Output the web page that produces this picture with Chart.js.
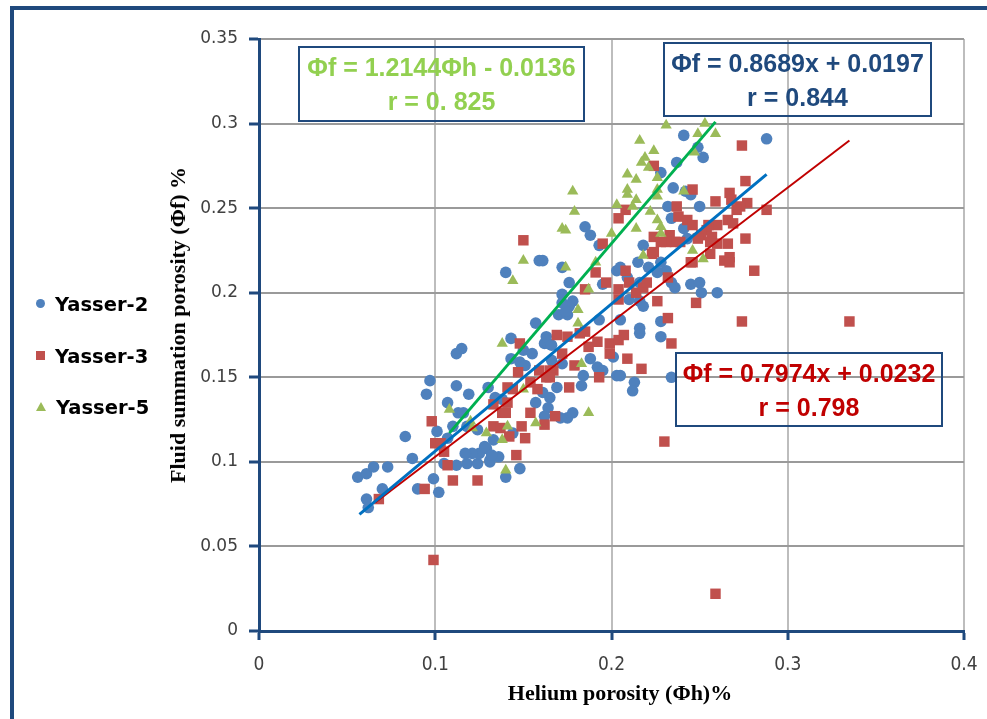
<!DOCTYPE html>
<html>
<head>
<meta charset="utf-8">
<script src="https://cdn.jsdelivr.net/npm/chart.js@4.4.1/dist/chart.umd.min.js"></script>
<style>
  body { margin: 0; background: #fff; }
  #wrap { position: relative; width: 987px; height: 719px; overflow: hidden; background: #fff; }
  #frame { position: absolute; left: 10px; top: 6px; width: 1000px; height: 760px; border: 4px solid #1F497D; box-sizing: border-box; }
  canvas { position: absolute; left: 0; top: 0; }
  .eq { position: absolute; border: 2px solid #1F497D; box-sizing: border-box; text-align: center;
        font: bold 25px "Liberation Sans", Arial, sans-serif; line-height: 34px; padding-top: 2px; white-space: nowrap; }
  .leg { position: absolute; left: 36px; height: 24px; line-height: 24px; font: bold 19.5px "DejaVu Sans", sans-serif; color: #000; white-space: nowrap; }
  .leg i { display: inline-block; margin-right: 10px; vertical-align: middle; position: relative; top: -2px; }
  .dot { width: 9px; height: 9px; border-radius: 50%; background: #4F81BD; }
  .sq { width: 9px; height: 9px; background: #C0504D; }
  .tri { width: 0; height: 0; border-left: 5px solid transparent; border-right: 5px solid transparent; border-bottom: 9px solid #9BBB59; }
  .ttl { position: absolute; font: bold 22px "Liberation Serif", "Times New Roman", serif; color: #000; white-space: nowrap; transform: translate(-50%, -50%); }
</style>
</head>
<body>
<div id="wrap">
  <div id="frame"></div>
  <canvas id="chart" width="987" height="719"></canvas>
  <div class="eq" style="left:298px;top:46px;width:287px;height:76px;color:#92D050;">Φf = 1.2144Φh - 0.0136<br>r = 0. 825</div>
  <div class="eq" style="left:663px;top:42px;width:269px;height:75px;color:#1F497D;">Φf = 0.8689x + 0.0197<br>r = 0.844</div>
  <div class="eq" style="left:675px;top:352px;width:268px;height:75px;color:#C00000;">Φf = 0.7974x + 0.0232<br>r = 0.798</div>
  <div class="leg" style="top:293px;"><i class="dot"></i>Yasser-2</div>
  <div class="leg" style="top:345px;"><i class="sq"></i>Yasser-3</div>
  <div class="leg" style="top:396px;"><i class="tri"></i>Yasser-5</div>
  <div class="ttl" style="left:620px;top:693px;">Helium porosity (Φh)%</div>
  <div class="ttl" style="left:178px;top:325px;transform:translate(-50%,-50%) rotate(-90deg);">Fluid summation porosity (Φf) %</div>
</div>
<script>
// helium porosity (x), fluid summation porosity (y)
const yasser2 = [
  [0.056,0.091],[0.061,0.093],[0.065,0.097],[0.073,0.097],[0.070,0.084],[0.061,0.078],[0.062,0.073],[0.087,0.102],
  [0.090,0.084],[0.099,0.090],[0.102,0.082],[0.105,0.099],[0.112,0.098],[0.118,0.099],[0.124,0.099],[0.131,0.100],
  [0.112,0.164],[0.115,0.167],[0.097,0.148],[0.095,0.140],[0.112,0.145],[0.119,0.140],[0.107,0.135],[0.113,0.129],
  [0.116,0.129],[0.130,0.144],[0.134,0.138],[0.138,0.137],[0.110,0.121],[0.118,0.121],[0.124,0.119],[0.101,0.118],
  [0.083,0.115],[0.107,0.114],[0.133,0.113],[0.144,0.117],[0.129,0.108],[0.125,0.105],[0.121,0.105],[0.117,0.105],
  [0.131,0.101],[0.136,0.103],[0.148,0.096],[0.140,0.091],[0.143,0.173],[0.150,0.166],[0.155,0.164],[0.162,0.170],
  [0.164,0.170],[0.148,0.159],[0.143,0.161],[0.157,0.182],[0.170,0.187],[0.175,0.187],[0.169,0.144],[0.165,0.138],
  [0.161,0.141],[0.157,0.135],[0.164,0.132],[0.162,0.127],[0.175,0.126],[0.171,0.126],[0.178,0.129],[0.128,0.109],
  [0.132,0.104],[0.159,0.219],[0.161,0.219],[0.140,0.212],[0.172,0.215],[0.176,0.206],[0.172,0.199],[0.178,0.195],
  [0.176,0.192],[0.174,0.189],[0.163,0.174],[0.166,0.169],[0.151,0.157],[0.166,0.160],[0.172,0.158],[0.188,0.161],
  [0.192,0.156],[0.184,0.151],[0.183,0.145],[0.203,0.213],[0.209,0.209],[0.215,0.218],[0.231,0.213],[0.226,0.212],
  [0.234,0.206],[0.216,0.195],[0.218,0.192],[0.210,0.196],[0.205,0.184],[0.228,0.183],[0.216,0.176],[0.228,0.174],
  [0.201,0.162],[0.203,0.151],[0.205,0.151],[0.213,0.147],[0.212,0.142],[0.195,0.154],[0.234,0.150],[0.245,0.205],
  [0.250,0.206],[0.251,0.200],[0.260,0.200],[0.241,0.293],[0.288,0.291],[0.249,0.286],[0.252,0.280],[0.237,0.277],
  [0.228,0.271],[0.235,0.262],[0.242,0.260],[0.245,0.258],[0.232,0.251],[0.250,0.251],[0.234,0.244],[0.185,0.239],
  [0.188,0.234],[0.193,0.228],[0.218,0.228],[0.241,0.238],[0.243,0.232],[0.228,0.218],[0.205,0.215],[0.221,0.215],
  [0.216,0.206],[0.236,0.203],[0.195,0.205],[0.172,0.194],[0.216,0.179],[0.193,0.184]
];
const yasser3 = [
  [0.068,0.078],[0.094,0.084],[0.107,0.098],[0.110,0.089],[0.124,0.089],[0.099,0.042],[0.098,0.124],[0.100,0.111],
  [0.103,0.111],[0.105,0.106],[0.133,0.134],[0.133,0.121],[0.137,0.120],[0.138,0.129],[0.141,0.135],[0.142,0.115],
  [0.146,0.104],[0.149,0.121],[0.151,0.114],[0.154,0.129],[0.144,0.143],[0.147,0.153],[0.148,0.170],[0.158,0.143],
  [0.159,0.154],[0.167,0.154],[0.163,0.150],[0.162,0.122],[0.168,0.127],[0.169,0.175],[0.175,0.174],[0.191,0.212],
  [0.197,0.206],[0.185,0.202],[0.208,0.213],[0.210,0.206],[0.214,0.200],[0.218,0.203],[0.204,0.202],[0.204,0.196],
  [0.220,0.206],[0.226,0.195],[0.232,0.185],[0.234,0.170],[0.248,0.194],[0.245,0.218],[0.264,0.219],[0.223,0.223],
  [0.182,0.176],[0.185,0.177],[0.187,0.168],[0.172,0.164],[0.179,0.157],[0.165,0.154],[0.192,0.171],[0.199,0.170],
  [0.204,0.172],[0.207,0.175],[0.199,0.164],[0.209,0.161],[0.217,0.155],[0.193,0.150],[0.154,0.147],[0.141,0.144],
  [0.176,0.144],[0.165,0.150],[0.140,0.129],[0.230,0.112],[0.150,0.231],[0.274,0.287],[0.224,0.275],[0.276,0.266],
  [0.246,0.261],[0.267,0.259],[0.268,0.255],[0.259,0.254],[0.277,0.253],[0.273,0.251],[0.271,0.249],[0.288,0.249],
  [0.237,0.251],[0.238,0.245],[0.243,0.243],[0.246,0.240],[0.266,0.243],[0.269,0.241],[0.260,0.240],[0.255,0.240],
  [0.254,0.237],[0.251,0.234],[0.249,0.232],[0.233,0.234],[0.236,0.230],[0.231,0.230],[0.224,0.233],[0.224,0.224],
  [0.228,0.230],[0.239,0.230],[0.257,0.233],[0.256,0.230],[0.256,0.223],[0.260,0.229],[0.266,0.229],[0.276,0.232],
  [0.267,0.221],[0.267,0.218],[0.246,0.218],[0.281,0.213],[0.232,0.209],[0.195,0.229],[0.274,0.183],[0.204,0.244],
  [0.208,0.249],[0.335,0.183],[0.259,0.022]
];
const yasser5 = [
  [0.108,0.131],[0.120,0.124],[0.121,0.120],[0.129,0.117],[0.138,0.113],[0.141,0.121],[0.157,0.123],[0.140,0.095],
  [0.138,0.170],[0.150,0.143],[0.150,0.219],[0.144,0.207],[0.174,0.215],[0.191,0.218],[0.187,0.202],[0.181,0.190],
  [0.181,0.182],[0.183,0.158],[0.187,0.129],[0.231,0.299],[0.253,0.300],[0.249,0.294],[0.259,0.294],[0.216,0.290],
  [0.224,0.284],[0.219,0.280],[0.217,0.277],[0.221,0.274],[0.226,0.268],[0.209,0.270],[0.214,0.267],[0.178,0.260],
  [0.209,0.261],[0.209,0.258],[0.226,0.261],[0.226,0.257],[0.214,0.255],[0.203,0.252],[0.212,0.251],[0.222,0.248],
  [0.179,0.248],[0.241,0.260],[0.247,0.283],[0.226,0.243],[0.228,0.239],[0.228,0.235],[0.214,0.238],[0.200,0.235],
  [0.172,0.238],[0.174,0.237],[0.218,0.222],[0.246,0.225],[0.252,0.220]
];
// trend line end points
const trend2 = [[0.057,0.069],[0.288,0.270]];
const trend3 = [[0.066,0.076],[0.335,0.290]];
const trend5 = [[0.108,0.117],[0.259,0.301]];

const xTickLabels = ['0','0.1','0.2','0.3','0.4'];
const yTickLabels = ['0','0.05','0.1','0.15','0.2','0.25','0.3','0.35'];

const pts = arr => arr.map(p => ({x: p[0], y: p[1]}));

function trendSet(arr, color, width) {
  return { data: pts(arr), showLine: true, borderColor: color, borderWidth: width,
           pointRadius: 0, fill: false, order: 0 };
}

new Chart(document.getElementById('chart'), {
  type: 'scatter',
  data: {
    datasets: [
      trendSet(trend5, '#00B050', 3),
      trendSet(trend2, '#0070C0', 3),
      trendSet(trend3, '#C00000', 2),
      { label: 'Yasser-5', data: pts(yasser5), pointStyle: 'triangle', pointRadius: 6.5,
        backgroundColor: '#9BBB59', borderWidth: 0, order: 1 },
      { label: 'Yasser-3', data: pts(yasser3), pointStyle: 'rect', pointRadius: 7.4,
        backgroundColor: '#C0504D', borderWidth: 0, order: 2 },
      { label: 'Yasser-2', data: pts(yasser2), pointStyle: 'circle', pointRadius: 5.8,
        backgroundColor: '#4F81BD', borderWidth: 0, order: 3 }
    ]
  },
  options: {
    responsive: false,
    animation: false,
    devicePixelRatio: 1,
    layout: { padding: { left: 169, right: 23, top: 39, bottom: 28 } },
    plugins: { legend: { display: false }, tooltip: { enabled: false } },
    scales: {
      x: {
        type: 'linear', min: 0, max: 0.4,
        afterFit: s => { s.height = 60; s.paddingRight = 12; s.paddingLeft = 6; },
        ticks: { stepSize: 0.1, padding: 14, maxRotation: 0, color: '#404040',
                 font: { family: '"Liberation Sans Narrow", "DejaVu Sans Condensed", sans-serif', size: 19 },
                 callback: (v, i) => xTickLabels[i] },
        grid: { color: '#BDBDBD', lineWidth: 2, tickColor: '#1F497D', tickLength: 9, tickWidth: 3 },
        border: { color: '#1F497D', width: 3 }
      },
      y: {
        min: 0, max: 0.35,
        afterFit: s => { s.width = 90; },
        ticks: { stepSize: 0.05, padding: 11, color: '#404040',
                 font: { family: '"DejaVu Sans", sans-serif', size: 17 },
                 callback: (v, i) => yTickLabels[i] },
        grid: { color: '#9A9A9A', lineWidth: 2, tickColor: '#1F497D', tickLength: 10, tickWidth: 3 },
        border: { color: '#1F497D', width: 3 }
      }
    }
  }
});
</script>
</body>
</html>
